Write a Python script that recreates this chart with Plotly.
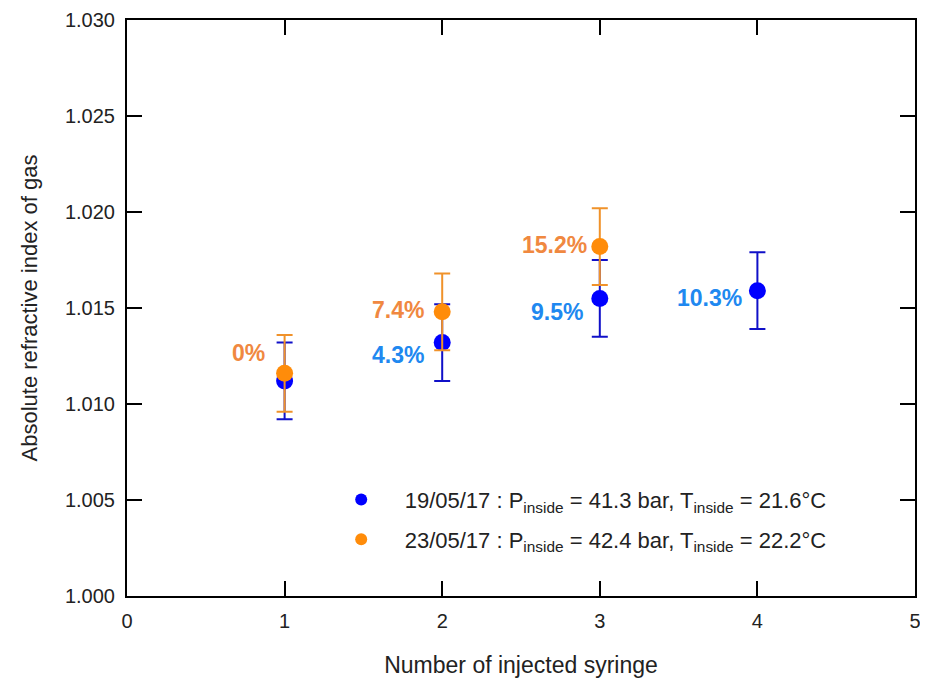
import plotly.graph_objects as go

syringes = [1, 2, 3, 4]

day1_label = "19/05/17 : P<sub>inside</sub> = 41.3 bar, T<sub>inside</sub> = 21.6°C"
day1_n = [1.0112, 1.0132, 1.0155, 1.0159]
day1_err = [0.002, 0.002, 0.002, 0.002]
day1_pct = ["", "4.3%", "9.5%", "10.3%"]

day2_label = "23/05/17 : P<sub>inside</sub> = 42.4 bar, T<sub>inside</sub> = 22.2°C"
day2_n = [1.0116, 1.0148, 1.0182]
day2_err = [0.002, 0.002, 0.002]
day2_pct = ["0%", "7.4%", "15.2%"]

FONT = "Liberation Sans, Arial, sans-serif"

fig = go.Figure()

fig.add_trace(go.Scatter(
    x=syringes, y=day1_n, mode="markers", name=day1_label, legendgroup="a",
    marker=dict(color="#0000ff", size=17),
    error_y=dict(type="data", array=day1_err, color="#1010c8", thickness=2, width=8),
))
fig.add_trace(go.Scatter(
    x=syringes[:len(day2_n)], y=day2_n, mode="markers", name=day2_label, legendgroup="b",
    marker=dict(color="#ff8c0a", size=17),
    error_y=dict(type="data", array=day2_err, color="#f0922a", thickness=2, width=8),
))

# percentage labels, placed left of each point (pixel shifts)
day1_shift = [(0, 0), (-16, -12), (-15, -14), (-13, -7)]
day2_shift = [(-18, 20), (-16, 2), (-11, 2)]
for x, y, t, (dx, dy) in zip(syringes, day1_n, day1_pct, day1_shift):
    if t:
        fig.add_annotation(x=x, y=y, text=f"<b>{t}</b>", showarrow=False,
                           xanchor="right", xshift=dx, yshift=dy,
                           font=dict(family=FONT, size=23, color="#2088f0"))
for x, y, t, (dx, dy) in zip(syringes, day2_n, day2_pct, day2_shift):
    fig.add_annotation(x=x, y=y, text=f"<b>{t}</b>", showarrow=False,
                       xanchor="right", xshift=dx, yshift=dy,
                       font=dict(family=FONT, size=23, color="#f08840"))

axis_common = dict(
    showline=True, linecolor="black", linewidth=2, mirror="ticks",
    ticks="inside", ticklen=15, tickwidth=2, tickcolor="black",
    showgrid=False, zeroline=False, automargin=False, ticklabeloverflow="allow",
    tickfont=dict(family=FONT, size=20, color="#222"),
)
fig.update_xaxes(range=[0, 5], dtick=1, ticklabelstandoff=6,
                 title=dict(text="Number of injected syringe",
                            font=dict(family=FONT, size=23, color="#222"), standoff=26),
                 **axis_common)
fig.update_yaxes(range=[1.0, 1.03], dtick=0.005, tickformat=".3f", ticklabelstandoff=6,
                 title=dict(text="Absolute refractive index of gas",
                            font=dict(family=FONT, size=22, color="#222"), standoff=21),
                 **axis_common)

# the page body adds an 8px offset, so the figure is a bit smaller than the window
fig.update_layout(
    width=920, height=670,
    plot_bgcolor="white", paper_bgcolor="white",
    margin=dict(l=119, r=13, t=12, b=82),
    showlegend=True,
    legend=dict(x=0.242, y=0.2035, xanchor="left", yanchor="top",
                font=dict(family=FONT, size=22, color="#222"),
                bgcolor="rgba(0,0,0,0)", itemsizing="constant",
                itemwidth=77, tracegroupgap=8),
)

fig.write_html("out.html")
